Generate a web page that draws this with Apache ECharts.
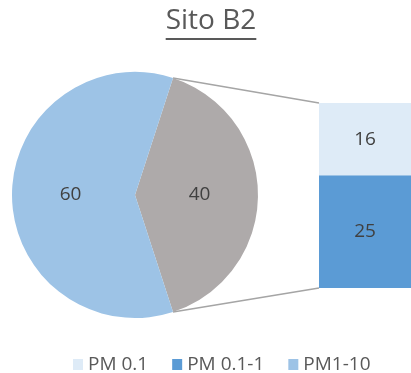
<!DOCTYPE html>
<html>
<head>
<meta charset="utf-8">
<script src="https://cdn.jsdelivr.net/npm/echarts@6/dist/echarts.min.js"></script>
<style>
  html, body { margin: 0; padding: 0; background: #fff; }
  #chart { width: 411px; height: 373px; }
</style>
</head>
<body>
<div id="chart"></div>
<script>
// Sito B2: PM fractions, pie with the fine part broken out into a stacked bar
const titleText = 'Sito B2';
const pieNames = ['PM 0.1 + PM 0.1-1', 'PM1-10'];
const pieValues = [40, 60];
const barNames = ['PM 0.1-1', 'PM 0.1'];   // bottom to top
const barValues = [25, 16];
const legendNames = ['PM 0.1', 'PM 0.1-1', 'PM1-10'];

const FONT = '"Open Sans", Lato, sans-serif';
const TEXT = '#595959';
const LABEL = '#404040';
const colors = {
  'PM 0.1': '#DEEBF7',
  'PM 0.1-1': '#5B9BD5',
  'PM1-10': '#9DC3E6',
  'PM 0.1 + PM 0.1-1': '#AEAAAA'
};

const pieCenter = [135, 195];
const pieRadius = 123;
const barTotal = barValues.reduce((a, b) => a + b, 0);
const pieTotal = pieValues.reduce((a, b) => a + b, 0);
// the broken-out slice is centred on the right-hand side
const startAngle = (pieValues[0] / pieTotal) * 180;
const titleSize = 28;
const titleMid = 211;
const titleTop = 7;

const chart = echarts.init(document.getElementById('chart'), null, { renderer: 'canvas' });

const option = {
  animation: false,
  legend: {
    data: legendNames,
    top: 350,
    left: 68,
    icon: 'rect',
    itemWidth: 10,
    itemHeight: 11,
    itemGap: 24,
    textStyle: { fontFamily: FONT, fontSize: 19, color: TEXT }
  },
  grid: { left: 319, top: 103, width: 92, height: 185 },
  xAxis: { type: 'category', data: [''], show: false },
  yAxis: { type: 'value', min: 0, max: barTotal, show: false },
  series: [
    {
      type: 'pie',
      center: pieCenter,
      radius: pieRadius,
      startAngle: startAngle,
      clockwise: true,
      label: {
        position: 'inside',
        formatter: '{c}',
        fontFamily: FONT, fontSize: 19, color: LABEL
      },
      labelLine: { show: false },
      emphasis: { disabled: true },
      data: pieNames.map((n, i) => ({ name: n, value: pieValues[i], itemStyle: { color: colors[n] } }))
    },
    ...barNames.map((n, i) => ({
      type: 'bar',
      name: n,
      stack: 'fine',
      barWidth: '100%',
      itemStyle: { color: colors[n] },
      label: { show: true, position: 'inside', fontFamily: FONT, fontSize: 19, color: LABEL },
      emphasis: { disabled: true },
      data: [barValues[i]]
    })),
    // legend entry for the coarse fraction (drawn by the pie)
    { type: 'line', name: 'PM1-10', data: [], itemStyle: { color: colors['PM1-10'] } }
  ]
};
chart.setOption(option);

// connector lines from the broken-out slice edges to the bar corners
const rad = startAngle * Math.PI / 180;
const sliceTop = [pieCenter[0] + pieRadius * Math.cos(rad), pieCenter[1] - pieRadius * Math.sin(rad)];
const sliceBot = [pieCenter[0] + pieRadius * Math.cos(rad), pieCenter[1] + pieRadius * Math.sin(rad)];
const barTop = chart.convertToPixel({ gridIndex: 0 }, [0, barTotal]);
const barBot = chart.convertToPixel({ gridIndex: 0 }, [0, 0]);
const barLeft = 319;

// underlined title
const ctx = document.createElement('canvas').getContext('2d');
ctx.font = titleSize + 'px ' + FONT;
const tw = ctx.measureText(titleText).width;

chart.setOption({
  graphic: [
    { type: 'line', shape: { x1: sliceTop[0], y1: sliceTop[1], x2: barLeft, y2: barTop[1] }, style: { stroke: '#A5A5A5', lineWidth: 1.5 } },
    { type: 'line', shape: { x1: sliceBot[0], y1: sliceBot[1], x2: barLeft, y2: barBot[1] }, style: { stroke: '#A5A5A5', lineWidth: 1.5 } },
    {
      type: 'text', x: titleMid, y: titleTop,
      style: { text: titleText, font: titleSize + 'px ' + FONT, fill: TEXT, textAlign: 'center', textVerticalAlign: 'top' }
    },
    { type: 'line', shape: { x1: titleMid - tw / 2, y1: 39, x2: titleMid + tw / 2, y2: 39 }, style: { stroke: TEXT, lineWidth: 2 } }
  ]
});
</script>
</body>
</html>
